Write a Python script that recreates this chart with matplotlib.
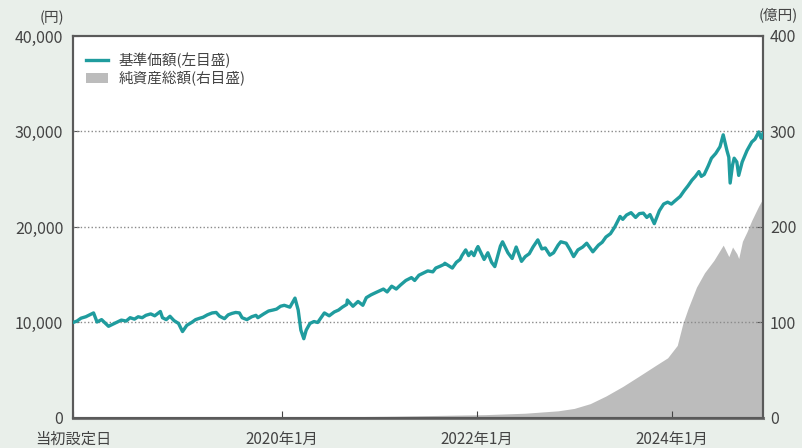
import pandas as pd
import matplotlib
matplotlib.use('Agg')
import matplotlib.pyplot as plt
from matplotlib.lines import Line2D
from matplotlib.patches import Patch

plt.rcParams['font.family'] = ['Noto Sans CJK JP', 'DejaVu Sans']

# 基準価額（円）
price_dates = [
    "2017-11-10", "2017-11-25", "2017-12-10", "2017-12-28", "2018-01-15", "2018-01-26",
    "2018-02-08", "2018-02-25", "2018-03-10", "2018-03-23", "2018-04-10", "2018-04-25",
    "2018-05-10", "2018-05-28", "2018-06-12", "2018-06-28", "2018-07-12", "2018-07-27",
    "2018-08-10", "2018-08-28", "2018-09-12", "2018-09-28", "2018-10-03", "2018-10-11",
    "2018-10-25", "2018-11-08", "2018-11-23", "2018-12-10", "2018-12-25", "2019-01-10",
    "2019-01-28", "2019-02-12", "2019-02-28", "2019-03-12", "2019-03-28", "2019-04-15",
    "2019-04-30", "2019-05-13", "2019-05-31", "2019-06-14", "2019-06-28", "2019-07-12",
    "2019-07-26", "2019-08-05", "2019-08-23", "2019-09-10", "2019-09-26", "2019-10-03",
    "2019-10-25", "2019-11-12", "2019-11-28", "2019-12-12", "2019-12-27", "2020-01-10",
    "2020-01-31", "2020-02-19", "2020-03-02", "2020-03-12", "2020-03-23", "2020-04-01",
    "2020-04-15", "2020-04-30", "2020-05-14", "2020-05-29", "2020-06-08", "2020-06-26",
    "2020-07-15", "2020-07-31", "2020-08-14", "2020-08-31", "2020-09-02", "2020-09-23",
    "2020-10-12", "2020-10-30", "2020-11-12", "2020-11-30", "2020-12-15", "2020-12-31",
    "2021-01-15", "2021-01-29", "2021-02-15", "2021-03-04", "2021-03-19", "2021-04-09",
    "2021-04-30", "2021-05-12", "2021-05-28", "2021-06-15", "2021-06-30", "2021-07-19",
    "2021-07-30", "2021-08-16", "2021-08-31", "2021-09-02", "2021-09-30", "2021-10-15",
    "2021-10-29", "2021-11-05", "2021-11-19", "2021-11-30", "2021-12-10", "2021-12-20",
    "2021-12-30", "2022-01-04", "2022-01-27", "2022-02-10", "2022-02-24", "2022-03-08",
    "2022-03-29", "2022-04-06", "2022-04-26", "2022-05-12", "2022-05-27", "2022-06-16",
    "2022-06-30", "2022-07-15", "2022-07-29", "2022-08-16", "2022-08-31", "2022-09-13",
    "2022-09-30", "2022-10-14", "2022-10-31", "2022-11-10", "2022-11-30", "2022-12-15",
    "2022-12-28", "2023-01-13", "2023-01-31", "2023-02-15", "2023-02-28", "2023-03-10",
    "2023-03-31", "2023-04-14", "2023-04-28", "2023-05-15", "2023-05-31", "2023-06-20",
    "2023-06-30", "2023-07-14", "2023-07-31", "2023-08-17", "2023-08-31", "2023-09-15",
    "2023-09-28", "2023-10-10", "2023-10-26", "2023-11-14", "2023-11-30", "2023-12-15",
    "2023-12-29", "2024-01-10", "2024-01-31", "2024-02-15", "2024-02-29", "2024-03-15",
    "2024-03-28", "2024-04-10", "2024-04-19", "2024-04-30", "2024-05-15", "2024-05-27",
    "2024-06-12", "2024-06-28", "2024-07-10", "2024-07-24", "2024-07-31", "2024-08-05",
    "2024-08-14", "2024-08-20", "2024-08-30", "2024-09-06", "2024-09-19", "2024-10-07",
    "2024-10-25", "2024-11-06", "2024-11-20", "2024-11-29", "2024-12-06",
]
price_values = [
    10000, 10150, 10450, 10600, 10850, 11000,
    10050, 10300, 9950, 9600, 9850, 10050,
    10250, 10150, 10500, 10350, 10600, 10500,
    10750, 10900, 10700, 11050, 11150, 10500,
    10300, 10650, 10200, 9900, 9050, 9700,
    10000, 10300, 10450, 10550, 10800, 11000,
    11050, 10650, 10400, 10800, 10950, 11050,
    11000, 10500, 10300, 10600, 10750, 10500,
    10900, 11200, 11300, 11400, 11700, 11800,
    11600, 12550, 11300, 9200, 8300, 9200,
    9900, 10100, 10000, 10600, 11000, 10700,
    11100, 11300, 11600, 11900, 12350, 11700,
    12200, 11800, 12600, 12900, 13100, 13300,
    13500, 13200, 13800, 13500, 13900, 14400,
    14700, 14400, 14950, 15200, 15400, 15300,
    15700, 15900, 16100, 16200, 15700, 16300,
    16600, 17000, 17600, 17000, 17400, 17000,
    17700, 17950, 16600, 17300, 16300, 15850,
    18000, 18450, 17300, 16700, 17900, 16400,
    16900, 17200, 17900, 18650, 17700, 17800,
    17050, 17300, 18100, 18450, 18300, 17600,
    16900, 17600, 17900, 18300, 17800, 17400,
    18100, 18400, 18950, 19300, 20000, 21100,
    20800, 21250, 21500, 21000, 21400, 21450,
    21000, 21300, 20350, 21700, 22400, 22600,
    22400, 22700, 23200, 23800, 24300, 24900,
    25300, 25800, 25300, 25500, 26400, 27200,
    27700, 28400, 29650, 28000, 27300, 24600,
    26500, 27200, 26800, 25400, 26800, 28000,
    28900, 29200, 29950, 29300, 29800,
]

# 純資産総額（億円）
asset_dates = [
    "2017-11-10", "2018-06-29", "2019-06-28", "2020-06-30", "2021-01-29", "2021-06-30",
    "2022-01-31", "2022-06-30", "2022-10-31", "2022-12-30", "2023-02-28", "2023-04-28",
    "2023-06-30", "2023-08-31", "2023-10-31", "2023-12-15", "2024-01-20", "2024-02-10",
    "2024-03-01", "2024-04-01", "2024-05-01", "2024-06-05", "2024-07-10", "2024-07-31",
    "2024-08-14", "2024-08-30", "2024-09-06", "2024-09-20", "2024-10-07", "2024-10-25",
    "2024-11-20", "2024-12-06",
]
asset_values = [
    0.1, 0.3, 0.6, 1.2, 1.8, 2.5,
    3.5, 5, 7.5, 10, 15, 23,
    33, 44, 55, 63, 76, 99,
    115, 137, 152, 165, 181, 169,
    179, 172, 167, 185, 195, 207,
    222, 230,
]

xtick_dates = ["2017-11-10", "2020-01-01", "2022-01-01", "2024-01-01"]
xtick_labels = ["当初設定日", "2020年1月", "2022年1月", "2024年1月"]
left_ticks = [0, 10000, 20000, 30000, 40000]
right_ticks = [0, 100, 200, 300, 400]

px = pd.to_datetime(price_dates)
ax_dates = pd.to_datetime(asset_dates)

bg = '#e9efea'
teal = '#1f9c9e'
gray_area = '#bcbcbc'
txt = '#444444'

fig = plt.figure(figsize=(8.03, 4.48), dpi=100, facecolor=bg)
ax2 = fig.add_axes([0.0909, 0.067, 0.8593, 0.8527])
ax = ax2.twinx()

# 右軸：純資産総額（面）
ax2.set_facecolor('white')
ax2.fill_between(ax_dates, 0, asset_values, color=gray_area, linewidth=0)
ax2.set_ylim(0, 400)
ax2.set_yticks(right_ticks)
ax2.yaxis.tick_right()

# 左軸：基準価額（線）
ax.patch.set_visible(False)
ax.plot(px, price_values, color=teal, linewidth=2.4, zorder=3)
ax.set_ylim(0, 40000)
ax.set_yticks(left_ticks)
ax.set_yticklabels([f'{v:,}' for v in left_ticks])
ax.yaxis.tick_left()
for y in left_ticks[1:4]:
    ax.axhline(y, color='#8a8a8a', linewidth=1.0, linestyle=(0, (1, 1.6)), zorder=2)

xmin, xmax = pd.Timestamp("2017-11-10"), pd.Timestamp("2024-12-06")
ax2.set_xlim(xmin, xmax)
ax2.set_xticks(pd.to_datetime(xtick_dates))
ax2.set_xticklabels(xtick_labels)

for a in (ax, ax2):
    for s in a.spines.values():
        s.set_color('#5a5a5a')
        s.set_linewidth(1.5)
ax2.spines['bottom'].set_color('#7a7a7a')
ax2.spines['bottom'].set_linewidth(2.2)

ax.tick_params(axis='y', direction='in', length=4, color='#555555',
               labelsize=11.5, labelcolor=txt, pad=7)
ax2.tick_params(axis='y', direction='in', length=4, color='#555555',
                labelsize=11.5, labelcolor=txt, pad=5)
ax2.tick_params(axis='x', direction='in', length=5, color='#444444',
                labelsize=11, labelcolor=txt, pad=9)

# 単位
fig.text(64 / 803, 1 - 18 / 448, '(円)', ha='right', va='center', fontsize=10.5, color=txt)
fig.text(798 / 803, 1 - 15 / 448, '(億円)', ha='right', va='center', fontsize=10.5, color=txt)

handles = [
    Line2D([0], [0], color=teal, linewidth=2.4),
    Patch(facecolor=gray_area, edgecolor='none'),
]
ax.legend(handles, ['基準価額(左目盛)', '純資産総額(右目盛)'], loc='upper left',
          bbox_to_anchor=(0.0, 0.99), frameon=False, fontsize=10.5,
          handlelength=1.5, handleheight=0.7, labelspacing=0.15,
          handletextpad=0.75, labelcolor=txt)

fig.savefig('out.png', dpi=100, facecolor=bg)
